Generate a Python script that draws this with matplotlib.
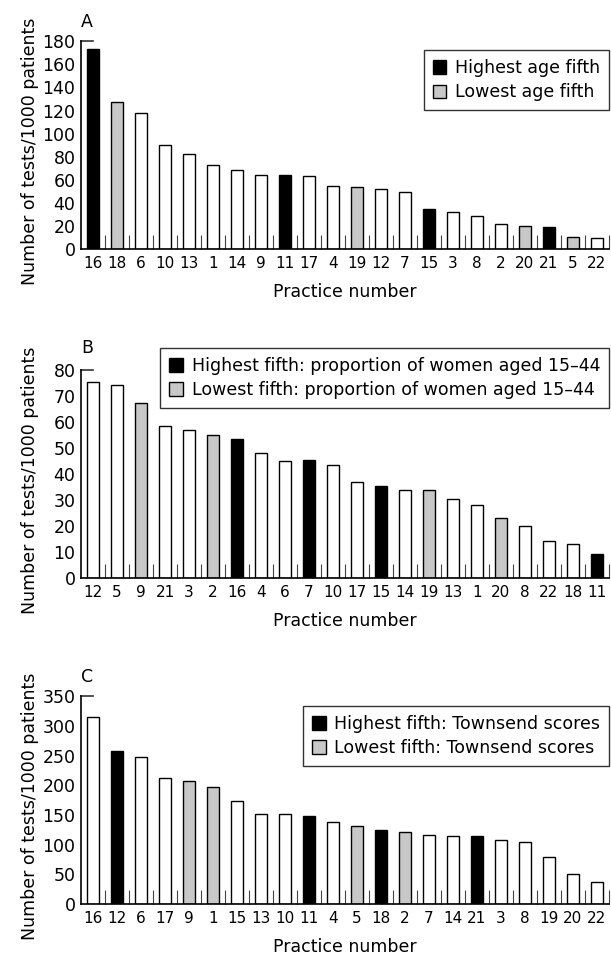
import matplotlib
matplotlib.use('Agg')
import matplotlib.pyplot as plt
from matplotlib.patches import Patch

plt.rcParams['font.family'] = ['DejaVu Sans']

# panel A: age
a_practice = [16, 18, 6, 10, 13, 1, 14, 9, 11, 17, 4, 19, 12, 7, 15, 3, 8, 2, 20, 21, 5, 22]
a_values = [173, 127, 118, 90, 82, 72.5, 68.5, 64, 64.5, 63, 55, 53.5, 52, 49, 34.5,
            32.5, 28.5, 21.5, 20, 19, 10.5, 9.5]
a_high = [16, 11, 15, 21]
a_low = [18, 19, 20, 5]

# panel B: women aged 15-44
b_practice = [12, 5, 9, 21, 3, 2, 16, 4, 6, 7, 10, 17, 15, 14, 19, 13, 1, 20, 8, 22, 18, 11]
b_values = [75.5, 74.4, 67.5, 58.5, 57.2, 55, 53.6, 48.3, 45.2, 45.6, 43.5, 37, 35.6,
            33.9, 33.9, 30.3, 28, 23, 20.1, 14.2, 13.2, 9.2]
b_high = [16, 7, 15, 11]
b_low = [9, 2, 19, 20]

# panel C: Townsend scores
c_practice = [16, 12, 6, 17, 9, 1, 15, 13, 10, 11, 4, 5, 18, 2, 7, 14, 21, 3, 8, 19, 20, 22]
c_values = [315, 257.5, 247.5, 212.5, 206.5, 196.5, 174, 152, 152, 148.5, 138, 131, 125.5,
            121, 115.5, 114.5, 114, 108.5, 105, 80, 50.5, 36.5]
c_high = [12, 11, 18, 21]
c_low = [9, 1, 5, 2]

panels = [
    ('A', a_practice, a_values, a_high, a_low, 180, 20,
     ['Highest age fifth', 'Lowest age fifth'], 0.956),
    ('B', b_practice, b_values, b_high, b_low, 80, 10,
     ['Highest fifth: proportion of women aged 15\u201344',
      'Lowest fifth: proportion of women aged 15\u201344'], 1.106),
    ('C', c_practice, c_values, c_high, c_low, 350, 50,
     ['Highest fifth: Townsend scores', 'Lowest fifth: Townsend scores'], 0.952),
]

GREY = '#c8c8c8'
bottoms = [0.7398, 0.3960, 0.0554]

fig = plt.figure(figsize=(6.11, 9.57), dpi=100)

for (letter, practice, values, high, low, ymax, ystep, labels, leg_y), b in zip(panels, bottoms):
    ax = fig.add_axes([0.1326, b, 0.864, 0.217])
    colors = []
    for p in practice:
        if p in high:
            colors.append('black')
        elif p in low:
            colors.append(GREY)
        else:
            colors.append('white')
    x = range(len(practice))
    ax.bar(x, values, width=0.5, color=colors, edgecolor='black', linewidth=1.0)

    ax.set_xlim(-0.5, len(practice) - 0.5)
    ax.set_ylim(0, ymax)
    ax.set_xticks(list(x))
    ax.set_xticklabels([str(p) for p in practice], fontsize=11)
    ax.set_xticks([i + 0.5 for i in range(len(practice))], minor=True)
    ax.tick_params(axis='x', which='major', length=0, pad=5)
    ax.tick_params(axis='x', which='minor', direction='in', length=10, width=0.8,
                   color='#444444')
    ax.set_yticks(range(0, ymax + 1, ystep))
    ax.tick_params(axis='y', length=0, pad=4, labelsize=12.5)

    for s in ['top', 'right']:
        ax.spines[s].set_visible(False)
    ax.spines['left'].set_linewidth(1.2)
    ax.spines['bottom'].set_linewidth(1.2)
    # short tick at the top of the y axis
    ax.plot([0, 0.023], [1, 1], transform=ax.transAxes, color='#333333', lw=1.2,
            clip_on=False)

    ax.set_xlabel('Practice number', fontsize=12.5, labelpad=9)
    ax.set_ylabel('Number of tests/1000 patients', fontsize=12.5)
    ax.yaxis.set_label_coords(-0.08, 0.47)
    ax.text(0.0, leg_y if letter == 'B' else 1.095, letter, transform=ax.transAxes,
            fontsize=12.5, ha='left', va='center')

    handles = [Patch(facecolor='black', edgecolor='black'),
               Patch(facecolor=GREY, edgecolor='black')]
    leg = ax.legend(handles, labels, loc='upper right', bbox_to_anchor=(1.0, leg_y),
                    borderaxespad=0, fancybox=False, fontsize=12.5, handlelength=0.8,
                    handleheight=0.8, handletextpad=0.5, labelspacing=0.35,
                    borderpad=0.5, framealpha=1)
    leg.get_frame().set_edgecolor('#333333')
    leg.get_frame().set_linewidth(1.0)

fig.savefig('out.png', dpi=100)
